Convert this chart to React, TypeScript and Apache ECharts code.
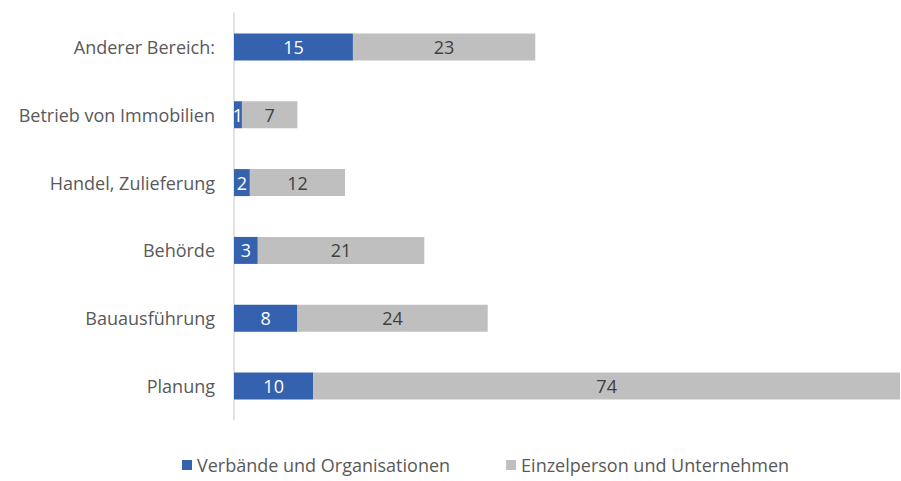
import React, { useEffect, useRef } from "react";
import * as echarts from "echarts";

const categories = [
  "Planung",
  "Bauausführung",
  "Behörde",
  "Handel, Zulieferung",
  "Betrieb von Immobilien",
  "Anderer Bereich:",
];
const verbaende = [10, 8, 3, 2, 1, 15];
const einzelperson = [74, 24, 21, 12, 7, 23];
const seriesNames = ["Verbände und Organisationen", "Einzelperson und Unternehmen"];

const FONT = "Open Sans";
const FS = 18;

export default function App() {
  const ref = useRef<HTMLDivElement>(null);
  useEffect(() => {
    document.body.style.margin = "0";
    const chart = echarts.init(ref.current!, undefined, { renderer: "svg" });
    chart.setOption({
      animation: false,
      textStyle: { fontFamily: FONT },
      grid: { left: 234, right: 1, top: 13, height: 407, containLabel: false },
      legend: {
        top: 456,
        left: 182,
        itemWidth: 10,
        itemHeight: 10,
        itemGap: 56,
        padding: 0,
        icon: "rect",
        textStyle: { color: "#595959", fontSize: FS, fontFamily: FONT, padding: [0, 0, 0, 0] },
        data: seriesNames,
      },
      xAxis: { type: "value", min: 0, max: 84, show: false },
      yAxis: {
        type: "category",
        data: categories,
        axisLine: { show: true, lineStyle: { color: "#D9D9D9", width: 1.5 } },
        axisTick: { show: false },
        axisLabel: { color: "#595959", fontSize: FS, margin: 19, fontFamily: FONT },
      },
      series: [
        {
          name: seriesNames[0],
          type: "bar",
          stack: "a",
          data: verbaende,
          barWidth: 27,
          itemStyle: { color: "#3562AE" },
          label: { show: true, position: "inside", color: "#FFFFFF", fontSize: FS, fontFamily: FONT },
        },
        {
          name: seriesNames[1],
          type: "bar",
          stack: "a",
          data: einzelperson,
          barWidth: 27,
          itemStyle: { color: "#BFBFBF" },
          label: { show: true, position: "inside", color: "#404040", fontSize: FS, fontFamily: FONT },
        },
      ],
    });
    return () => chart.dispose();
  }, []);
  return <div ref={ref} style={{ width: 901, height: 481 }} />;
}
